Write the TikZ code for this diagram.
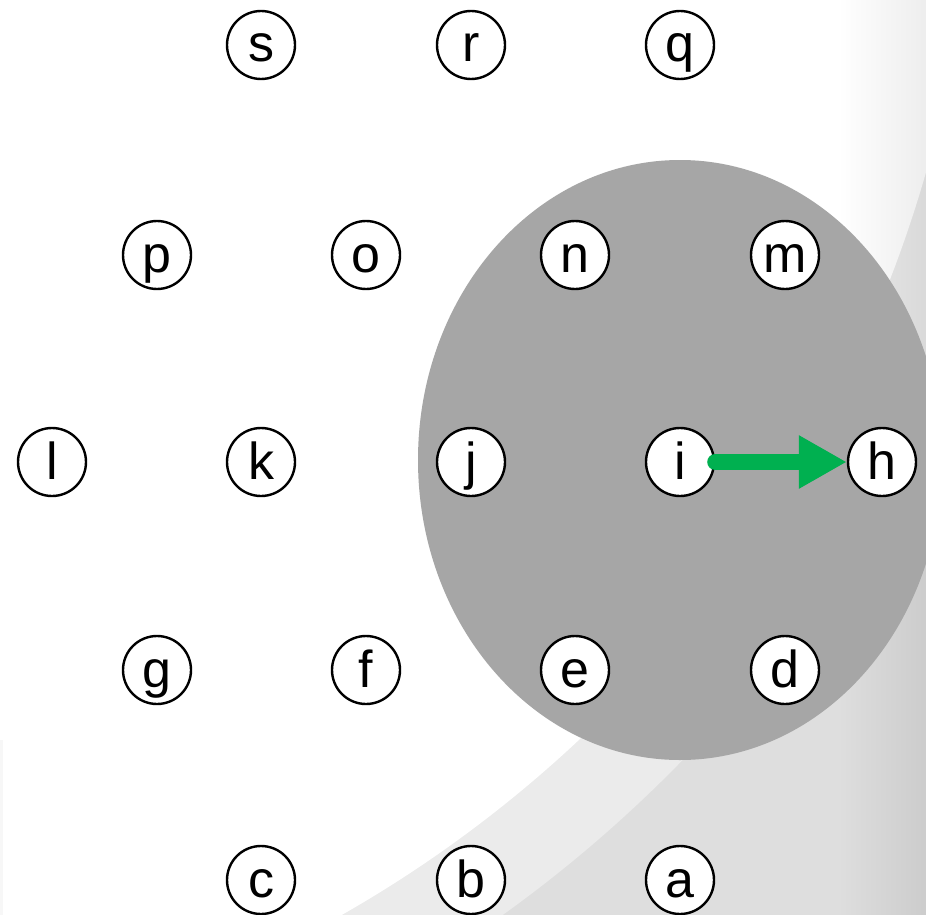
\documentclass[tikz,border=0pt]{standalone}
\usepackage{fontspec}
\setmainfont{Liberation Sans}
\usetikzlibrary{arrows.meta}
\definecolor{bandgray}{HTML}{EBEBEB}
\definecolor{deepgray}{HTML}{DEDEDE}
\definecolor{ellgray}{HTML}{A6A6A6}
\definecolor{arrowgreen}{HTML}{00B050}
\tikzset{
  vert/.style={circle, draw=black, fill=white, line width=2.4pt, minimum size=68pt,
    inner sep=0pt, text height=34pt, text depth=0pt,
    font=\fontsize{52}{60}\selectfont},
  greenarrow/.style={draw=arrowgreen, line width=16pt, line cap=round,
    -{Triangle[length=48pt,width=50pt]}}
}
\begin{document}
\begin{tikzpicture}[x=1pt,y=-1pt]
\useasboundingbox (0,0) rectangle (926,915);
% background
\begin{scope}
  \clip (0,0) rectangle (926,915);
  \fill[deepgray] (0,0) rectangle (926,915);
  \fill[bandgray] (-276,-172) circle [radius=1337pt];
  \fill[white] (-276,-172) circle [radius=1250pt];
  \foreach \t in {1,...,18} {
    \fill[black, fill opacity=0.004] ({836+5*\t},-10) rectangle (927,925);
  }
  \fill[black, fill opacity=0.03] (0,740) rectangle (3,915);
\end{scope}
\fill[ellgray] (680,460) ellipse [x radius=262pt, y radius=300pt];
% nodes
\node[vert] (s) at (261,45) {s};
\node[vert] (r) at (471,45) {r};
\node[vert] (q) at (680,45) {q};
\node[vert] (p) at (157,255) {p};
\node[vert] (o) at (366,255) {o};
\node[vert] (n) at (575,255) {n};
\node[vert] (m) at (785,255) {m};
\node[vert] (l) at (52,462) {l};
\node[vert] (k) at (261,462) {k};
\node[vert] (j) at (471,462) {j};
\node[vert] (i) at (680,462) {i};
\node[vert] (h) at (882,462) {h};
\node[vert] (g) at (157,670) {g};
\node[vert] (f) at (366,670) {f};
\node[vert] (e) at (575,670) {e};
\node[vert] (d) at (785,670) {d};
\node[vert] (c) at (261,880) {c};
\node[vert] (b) at (471,880) {b};
\node[vert] (a) at (680,880) {a};
\draw[greenarrow] (i) -- (h);
\end{tikzpicture}
\end{document}
